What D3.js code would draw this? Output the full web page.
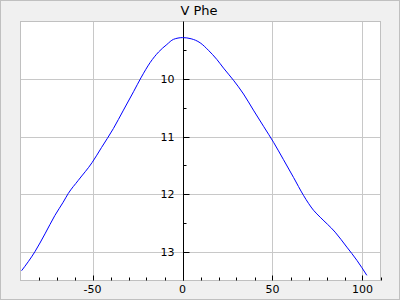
<!DOCTYPE html>
<html><head><meta charset="utf-8">
<script src="https://cdn.jsdelivr.net/npm/d3@7"></script>
<style>body{margin:0;background:#fff}svg{display:block}</style>
</head><body>
<svg id="c" width="400" height="300"></svg>
<script>
const title = "V Phe";
const phase = [-89.4,-82,-76.4,-70.9,-66.3,-63.5,-57.9,-50.2,-45,-38.4,-32.8,-27.2,-23.1,-17.9,-13.3,-8.7,-5,0,4.8,9.8,14.4,19.1,22.8,28.3,33.9,39.4,45,50.6,56.1,61.7,67.2,72.8,76.5,84.8,91.3,96.9,102.4];
const mag = [13.33,13.0,12.69,12.37,12.14,11.99,11.76,11.45,11.19,10.86,10.54,10.22,9.98,9.71,9.53,9.40,9.31,9.28,9.30,9.37,9.50,9.66,9.81,10.02,10.26,10.54,10.82,11.10,11.40,11.71,12.02,12.28,12.40,12.66,12.92,13.15,13.41];
const xTicks = [-50,0,50,100];
const yTicks = [10,11,12,13];
const xMinor = d3.range(-80,111,10);
const yMinor = [9.5,10.5,11.5,12.5];

const svg = d3.select("#c");
const L=20.5,R=380.5,T=21.5,B=280.5;
const x = d3.scaleLinear().domain([-90,110]).range([L,R]);
const y = d3.scaleLinear().domain([9,13.5]).range([T,B]);

svg.append("rect").attr("x",0.5).attr("y",0.5).attr("width",399).attr("height",299)
  .attr("fill","#f0f0f0").attr("stroke","#c0c0c0");
svg.append("rect").attr("x",L).attr("y",T).attr("width",R-L).attr("height",B-T)
  .attr("fill","#fff");

// grid
svg.append("g").selectAll("line").data(xTicks).join("line")
  .attr("x1",d=>Math.round(x(d))+0.5).attr("x2",d=>Math.round(x(d))+0.5)
  .attr("y1",T).attr("y2",B).attr("stroke","#c8c8c8");
svg.append("g").selectAll("line").data(yTicks).join("line")
  .attr("y1",d=>Math.round(y(d))+0.5).attr("y2",d=>Math.round(y(d))+0.5)
  .attr("x1",L).attr("x2",R).attr("stroke","#c8c8c8");

svg.append("rect").attr("x",L).attr("y",T).attr("width",R-L).attr("height",B-T)
  .attr("fill","none").attr("stroke","#c0c0c0");

const x0 = Math.round(x(0))+0.5;
svg.append("line").attr("x1",x0).attr("x2",x0).attr("y1",T).attr("y2",B)
  .attr("stroke","#000");
svg.append("g").selectAll("line").data(yTicks).join("line")
  .attr("x1",x0).attr("x2",x0+6).attr("y1",d=>Math.round(y(d))+0.5).attr("y2",d=>Math.round(y(d))+0.5)
  .attr("stroke","#000");
svg.append("g").selectAll("line").data(yMinor).join("line")
  .attr("x1",x0).attr("x2",x0+3).attr("y1",d=>Math.round(y(d))+0.5).attr("y2",d=>Math.round(y(d))+0.5)
  .attr("stroke","#000");
svg.append("g").selectAll("text").data(yTicks).join("text")
  .attr("x",x0-9).attr("y",d=>y(d)+4).attr("text-anchor","end")
  .attr("font-family","DejaVu Sans").attr("font-size",11).attr("fill","#000").text(d=>d);
svg.append("g").selectAll("line").data(xMinor).join("line")
  .attr("x1",d=>Math.round(x(d))+0.5).attr("x2",d=>Math.round(x(d))+0.5)
  .attr("y1",B).attr("y2",d=>xTicks.includes(d)?B-5:B-3).attr("stroke","#000");
svg.append("g").selectAll("text").data(xTicks).join("text")
  .attr("x",d=>x(d)).attr("y",B+12).attr("text-anchor","middle")
  .attr("font-family","DejaVu Sans").attr("font-size",11).attr("fill","#000").text(d=>d);

const pts = phase.map((p,i)=>[p,mag[i]]);
svg.append("path").datum(pts)
  .attr("d",d3.line().x(d=>x(d[0])).y(d=>y(d[1])).curve(d3.curveMonotoneX))
  .attr("fill","none").attr("stroke","#0000ff").attr("stroke-width",1);

svg.append("text").attr("x",199).attr("y",15).attr("text-anchor","middle")
  .attr("font-family","DejaVu Sans").attr("font-size",13).attr("fill","#000").text(title);
</script>
</body></html>
